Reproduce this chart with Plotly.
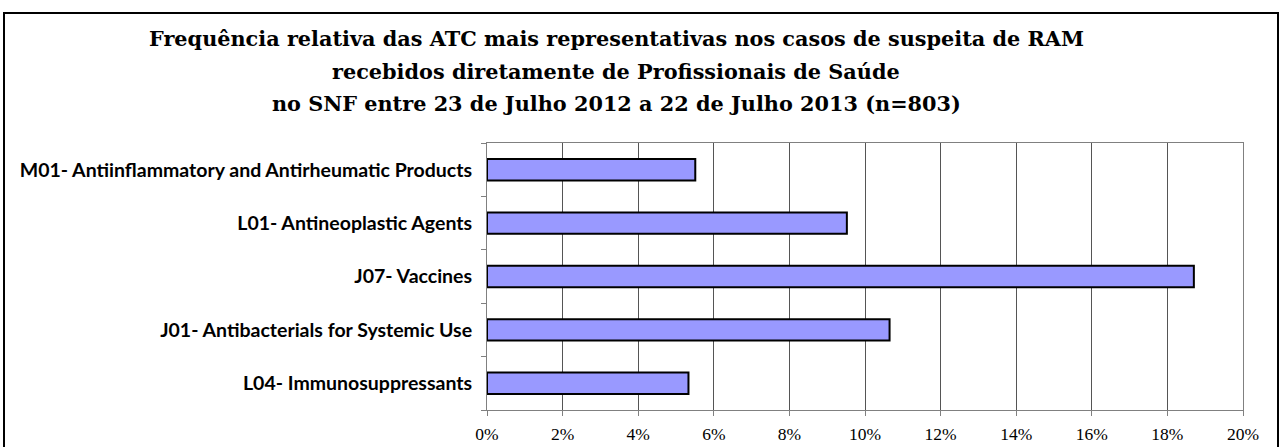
import plotly.graph_objects as go

categories = [
    "L04- Immunosuppressants",
    "J01- Antibacterials for Systemic Use",
    "J07- Vaccines",
    "L01- Antineoplastic Agents",
    "M01- Antiinflammatory and Antirheumatic Products",
]
values = [0.0533, 0.1065, 0.1870, 0.0952, 0.0551]

title_lines = [
    "Frequência relativa das ATC mais representativas nos casos de suspeita de RAM",
    "recebidos diretamente de Profissionais de Saúde",
    "no SNF entre 23 de Julho 2012 a 22 de Julho 2013 (n=803)",
]

W, H = 1284, 447
L, R, T, B = 487, 41, 143, 37
pw, ph = W - L - R, H - T - B

fig = go.Figure()
fig.add_bar(
    x=values,
    y=categories,
    orientation="h",
    width=0.40,
    marker=dict(color="#9999FF", line=dict(color="black", width=2)),
)

fig.update_layout(
    width=W,
    height=H,
    margin=dict(l=L, r=R, t=T, b=B),
    paper_bgcolor="white",
    plot_bgcolor="white",
    showlegend=False,
    font=dict(family="Liberation Serif", color="black"),
)

fig.update_xaxes(
    automargin=False,
    range=[0, 0.20],
    dtick=0.02,
    tickformat=".0%",
    showgrid=True,
    gridcolor="#555555",
    gridwidth=1,
    showline=True,
    linecolor="#808080",
    linewidth=1,
    mirror=True,
    ticks="outside",
    ticklen=5,
    tickcolor="#808080",
    tickfont=dict(family="Liberation Serif", size=17.5, color="black"),
    ticklabelstandoff=3,
    zeroline=False,
)
fig.update_yaxes(
    automargin=False,
    showline=True,
    linecolor="#808080",
    linewidth=1,
    mirror=True,
    ticks="outside",
    tickson="boundaries",
    ticklen=5,
    tickcolor="#808080",
    showgrid=False,
    tickfont=dict(family="Lato", size=19.5, color="black", weight="bold"),
    ticklabelstandoff=10,
)


def px_x(x):
    return (x - L) / pw


def px_y(y):
    return (H - B - y) / ph


# outer frame
fig.add_shape(
    type="rect", xref="paper", yref="paper",
    x0=px_x(4), x1=px_x(1278), y0=px_y(470), y1=px_y(13),
    line=dict(color="black", width=2), layer="below",
)

for line, yc in zip(title_lines, [39, 71, 103]):
    fig.add_annotation(
        text="<b>" + line + "</b>",
        xref="paper", yref="paper",
        x=px_x(616), y=px_y(yc),
        xanchor="center", yanchor="middle",
        showarrow=False,
        font=dict(family="DejaVu Serif", size=20.8, color="black"),
    )

fig.write_html(
    "out.html",
    config={"displayModeBar": False},
    post_script="document.body.style.margin='0';",
)
